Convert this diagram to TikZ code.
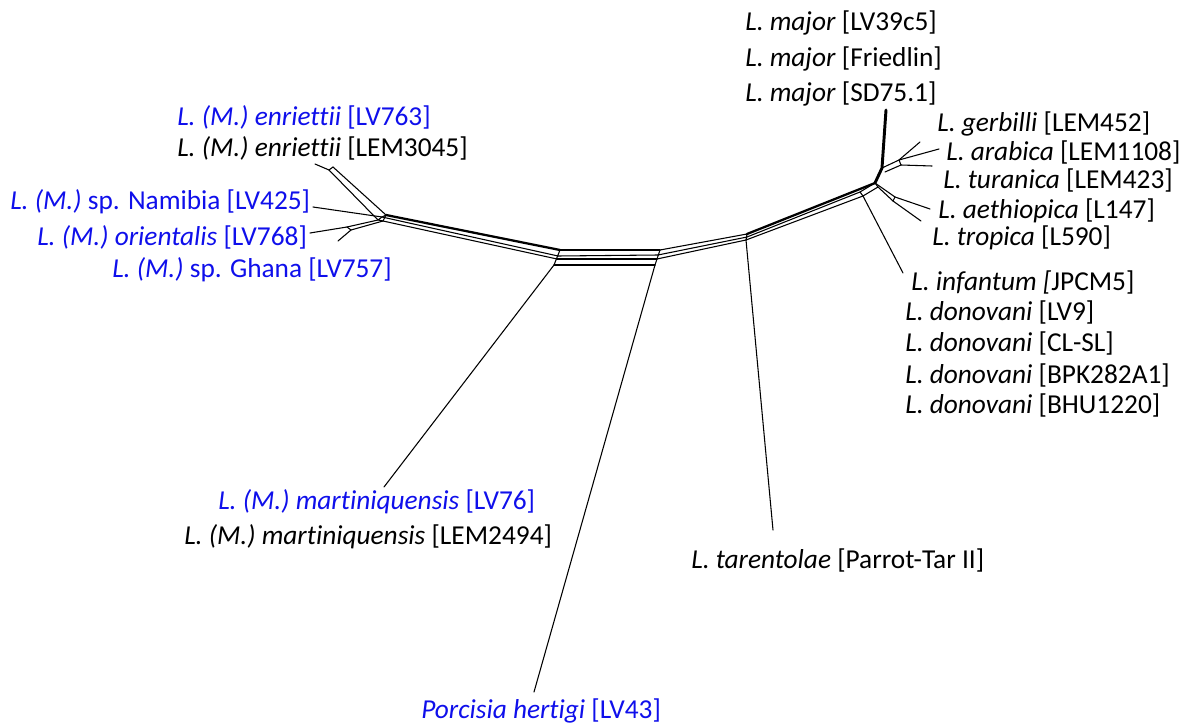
\documentclass[tikz,border=0pt]{standalone}
\usepackage{fontspec}
\setmainfont[Ligatures={NoCommon,NoRare}]{Carlito}
\definecolor{lblue}{RGB}{15,15,235}
\begin{document}
\begin{tikzpicture}[x=0.75pt,y=-0.75pt,
  lab/.style={anchor=west,inner sep=0pt,font=\fontsize{20.5}{24}\selectfont},
  bl/.style={lab,text=lblue},
  br/.style={line width=0.8pt,line join=round,line cap=round},
  brk/.style={line width=1.7pt,line join=round,line cap=round}]
\useasboundingbox (0,0) rectangle (1186,724);

% ---------- labels ----------
\node[bl] (enrA) at (177,117) {\textit{L. (M.) enriettii} [LV763]};
\node[lab] (enrB) at (177,148) {\textit{L. (M.) enriettii} [LEM3045]};
\node[bl] (nam) at (10,202) {\textit{L. (M.)} sp. Namibia [LV425]};
\node[bl] (ori) at (37,237) {\textit{L. (M.) orientalis} [LV768]};
\node[bl] (gha) at (112,270) {\textit{L. (M.)} sp. Ghana [LV757]};
\node[lab] (majA) at (745,23) {\textit{L. major} [LV39c5]};
\node[lab] (majB) at (745,59) {\textit{L. major} [Friedlin]};
\node[lab] (majC) at (745,94) {\textit{L. major} [SD75.1]};
\node[lab] (ger) at (937,124) {\textit{L. gerbilli} [LEM452]};
\node[lab] (ara) at (946,152) {\textit{L. arabica} [LEM1108]};
\node[lab] (tur) at (943,180) {\textit{L. turanica} [LEM423]};
\node[lab] (aet) at (938,211) {\textit{L. aethiopica} [L147]};
\node[lab] (tro) at (932,238) {\textit{L. tropica} [L590]};
\node[lab] (inf) at (911,282) {\textit{L. infantum [}JPCM5]};
\node[lab] (donA) at (905,312) {\textit{L. donovani} [LV9]};
\node[lab] (donB) at (905,343) {\textit{L. donovani} [CL-SL]};
\node[lab] (donC) at (905,375) {\textit{L. donovani} [BPK282A1]};
\node[lab] (donD) at (905,405) {\textit{L. donovani} [BHU1220]};
\node[bl] (marA) at (218,502) {\textit{L. (M.) martiniquensis} [LV76]};
\node[lab] (marB) at (184,537) {\textit{L. (M.) martiniquensis} [LEM2494]};
\node[lab] (tar) at (691,560) {\textit{L. tarentolae} [Parrot-Tar II]};
\node[bl] (por) at (421,711) {\textit{Porcisia hertigi} [LV43]};

% ---------- network coordinates ----------
% left cluster
\coordinate (eTip) at (315,164);
\coordinate (eA) at (329,170);
\coordinate (eB) at (333,167);
\coordinate (nTip) at (313,207);
\coordinate (oTip) at (310,233);
\coordinate (oA) at (347,227);
\coordinate (oB) at (351,230);
\coordinate (gTip) at (338,241);
\coordinate (h1) at (382,217);
\coordinate (h2) at (386,215);
\coordinate (h3) at (378,220);
\coordinate (h4) at (383,221);
% centre box
\coordinate (c1) at (560,250);
\coordinate (c2) at (558,256);
\coordinate (c3) at (557,259);
\coordinate (c4) at (554,265);
\coordinate (d1) at (660,250);
\coordinate (d2) at (658,255);
\coordinate (d3) at (657,259);
\coordinate (d4) at (655,265);
% tarentolae junction
\coordinate (t1) at (747,234);
\coordinate (t2) at (747,237);
\coordinate (t3) at (746,240);
% right hub
\coordinate (r1) at (860,192);
\coordinate (r2) at (875,183);
\coordinate (r3) at (863,196);
\coordinate (r4) at (878,187);
% major
\coordinate (mA) at (882,168);
\coordinate (mTip) at (886,110);
% gerbilli group
\coordinate (gA) at (899,160);
\coordinate (gB) at (901,165);
\coordinate (gB0) at (885,172);
\coordinate (gerTip) at (920,142);
\coordinate (araTip) at (939,149);
\coordinate (turTip) at (932,166);
% aethiopica / tropica
\coordinate (aA) at (895,197);
\coordinate (aB) at (893,201);
\coordinate (aetTip) at (930,209);
\coordinate (troTip) at (921,221);
% leaves
\coordinate (infTip) at (903,273);
\coordinate (marTip) at (384,487);
\coordinate (porTip) at (534,692);
\coordinate (tarTip) at (773,530);

% ---------- edges ----------
% left
\draw[br] (eTip) -- (eA);
\draw[br] (eA) -- (h3);
\draw[br] (eB) -- (h2);
\draw[br] (eA) -- (eB);
\draw[br] (nTip) -- (h1);
\draw[br] (oTip) -- (oA);
\draw[br] (oA) -- (h3);
\draw[br] (oB) -- (h4);
\draw[br] (oA) -- (oB);
\draw[br] (gTip) -- (oB);
\draw[br] (h1) -- (h2) -- (h4) -- (h3) -- cycle;
% left to centre
\draw[brk] (h2) -- (c1);
\draw[br] (h1) -- (c2);
\draw[br] (h4) -- (c3);
% centre box
\draw[br] (c1) -- (d1);
\draw[br] (c2) -- (d2);
\draw[br] (c3) -- (d3);
\draw[br] (c4) -- (d4);
\draw[br] (c1) -- (c4);
\draw[br] (d1) -- (d4);
% centre to tarentolae junction
\draw[br] (d1) -- (t1);
\draw[br] (d2) -- (t2);
\draw[br] (d3) -- (t3);
\draw[br] (t1) -- (t3);
% junction to right hub
\draw[brk] (t1) -- (r2);
\draw[br] (t2) -- (r1);
\draw[br] (t3) -- (r3);
\draw[br] (r1) -- (r2) -- (r4) -- (r3) -- cycle;
% major
\draw[line width=2.2pt,line cap=round,line join=round] (r2) -- (mA) -- (mTip);
% gerbilli group
\draw[br] (mA) -- (gA);
\draw[br] (gB0) -- (gB);
\draw[br] (gA) -- (gB);
\draw[br] (gA) -- (gerTip);
\draw[br] (gA) -- (araTip);
\draw[br] (gB) -- (turTip);
% aethiopica / tropica
\draw[br] (r2) -- (aA);
\draw[br] (r4) -- (aB);
\draw[br] (aA) -- (aB);
\draw[br] (aA) -- (aetTip);
\draw[br] (aB) -- (troTip);
% leaves
\draw[br] (r3) -- (infTip);
\draw[br] (c4) -- (marTip);
\draw[br] (d4) -- (porTip);
\draw[br] (t3) -- (tarTip);
\end{tikzpicture}
\end{document}
